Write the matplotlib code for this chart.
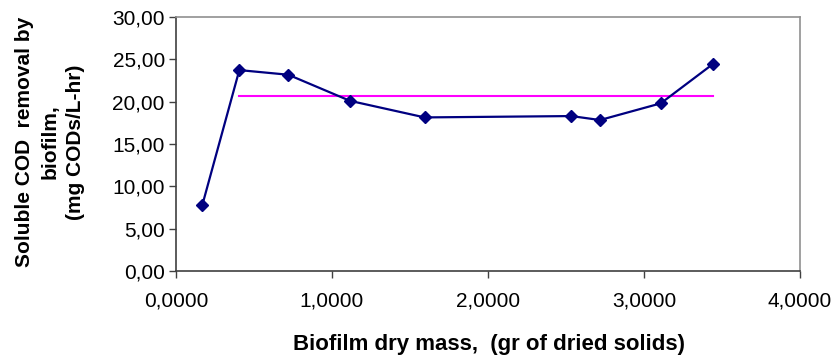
import matplotlib
matplotlib.use("Agg")
import matplotlib.pyplot as plt
from matplotlib.ticker import FuncFormatter

# data
mass = [0.169, 0.406, 0.720, 1.115, 1.594, 2.534, 2.718, 3.107, 3.444]
removal = [7.80, 23.73, 23.18, 20.10, 18.14, 18.30, 17.83, 19.80, 24.48]
mean_x = [0.406, 3.444]
mean_y = [20.70, 20.70]

xticks = [0, 1, 2, 3, 4]
yticks = [0, 5, 10, 15, 20, 25, 30]

NAVY = "#000080"
MAGENTA = "#FF00FF"

plt.rcParams["font.family"] = ["Liberation Sans", "DejaVu Sans"]

fig = plt.figure(figsize=(8.38, 3.61), dpi=100, facecolor="white")
ax = fig.add_axes([0.21, 0.2493, 0.7447, 0.7036])

ax.plot(mean_x, mean_y, color=MAGENTA, linewidth=1.5, zorder=2)
ax.plot(mass, removal, color=NAVY, linewidth=1.6, marker="D", markersize=6.5,
        markerfacecolor=NAVY, markeredgecolor=NAVY, zorder=3)

ax.set_xlim(0, 4)
ax.set_ylim(0, 30)
ax.set_xticks(xticks)
ax.set_yticks(yticks)
ax.xaxis.set_major_formatter(FuncFormatter(lambda v, _: f"{v:.4f}".replace(".", ",")))
ax.yaxis.set_major_formatter(FuncFormatter(lambda v, _: f"{v:.2f}".replace(".", ",")))
ax.tick_params(axis="both", direction="out", length=5, width=1, colors="#404040",
               labelsize=15, labelcolor="black")
ax.tick_params(axis="x", pad=10)
ax.tick_params(axis="y", pad=3)

for side in ["left", "bottom"]:
    ax.spines[side].set_color("#404040")
    ax.spines[side].set_linewidth(1.2)
for side in ["top", "right"]:
    ax.spines[side].set_color("#909090")
    ax.spines[side].set_linewidth(1.2)

ax.set_xlabel("Biofilm dry mass,  (gr of dried solids)", fontsize=16, fontweight="bold")
ax.set_ylabel("Soluble COD  removal by\nbiofilm,\n(mg CODs/L-hr)", fontsize=15,
              fontweight="bold", linespacing=1.45)
ax.xaxis.set_label_coords(0.502, -0.291)
ax.xaxis.label.set_va("center")
ax.yaxis.set_label_coords(-0.202, 0.508)
ax.yaxis.label.set_va("center")

plt.savefig("out.png", dpi=100, facecolor="white")
